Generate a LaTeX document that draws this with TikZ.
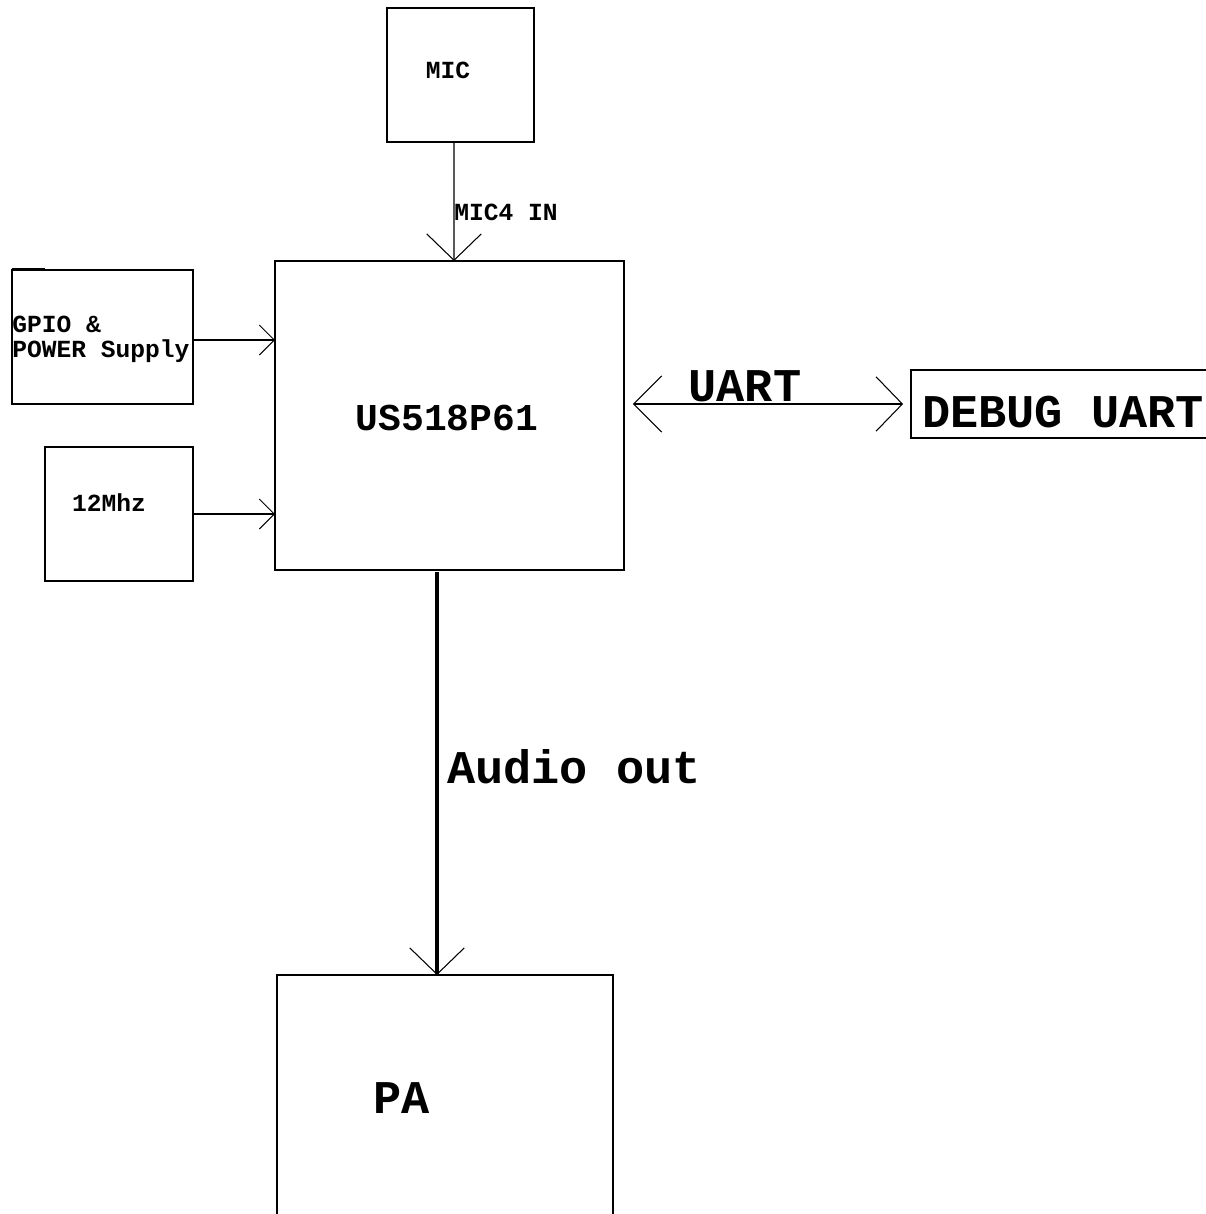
\documentclass[tikz,border=0pt]{standalone}
\usepackage{fontspec}
\setmainfont{Liberation Mono}
\usetikzlibrary{arrows.meta,calc}
\begin{document}
\begin{tikzpicture}[x=0.02cm,y=-0.02cm,
  box/.style={draw,line width=0.6pt,inner sep=0pt,outer sep=0pt,anchor=north west},
  small/.style={font=\fontsize{14}{14.2}\selectfont\bfseries,inner sep=0pt},
  mid/.style={font=\fontsize{21.6}{24}\selectfont\bfseries,inner sep=0pt},
  big/.style={font=\fontsize{26.7}{30}\selectfont\bfseries,inner sep=0pt},
  conn/.style={line width=0.6pt},
  smallhead/.style={-{Straight Barb[length=8.5pt,width=17pt,line width=0.6pt]}},
  bighead/.style={-{Straight Barb[length=15pt,width=31pt,line width=0.6pt]}},
  dblhead/.style={{Straight Barb[length=16pt,width=32pt,line width=0.6pt]}-{Straight Barb[length=15pt,width=31pt,line width=0.6pt]}},
]
\path[use as bounding box,clip] (0,0) rectangle (1206,1214);
% boxes
\node[box,minimum width=147*0.02cm,minimum height=134*0.02cm] (mic) at (387,8) {};
\node[box,minimum width=181*0.02cm,minimum height=134*0.02cm] (gpio) at (12,270) {};
\node[box,minimum width=148*0.02cm,minimum height=134*0.02cm] (clk) at (45,447) {};
\node[box,minimum width=349*0.02cm,minimum height=309*0.02cm] (us) at (275,261) {};
\node[box,minimum width=320*0.02cm,minimum height=68*0.02cm] (dbg) at (911,370) {};
\node[box,minimum width=336*0.02cm,minimum height=260*0.02cm] (pa) at (277,975) {};
\draw[line width=1.2pt] (12,269) -- (45,269);
% labels
\node[small] (tmic) at (448,70) {MIC};
\node[small,anchor=base west] (tgpio1) at (12,332) {GPIO \&};
\node[small,anchor=base west] (tgpio2) at (12,357) {POWER Supply};
\node[small] (tclk) at (109,503) {12Mhz};
\node[mid] (tus) at (447,418) {US518P61};
\node[big,anchor=west] (tdbg) at (922,412) {DEBUG UART};
\node[big] (tpa) at (402,1098) {PA};
\node[small,anchor=west] (tmicin) at (454,212) {MIC4 IN};
\node[big,anchor=base] (tuart) at (745,401) {UART};
\node[big,anchor=west] (taudio) at (447,767) {Audio out};
% connectors
\draw[conn,bighead] ($(mic.south)+(-6.5,0)$) -- ($(us.north)+(4.5,0)$);
\draw[conn,smallhead] ($(gpio.east)+(0,3)$) -- ($(gpio.east -| us.west)+(0,3)$);
\draw[conn,smallhead] (clk.east) -- (clk.east -| us.west);
\draw[conn,dblhead,shorten <=5pt,shorten >=4.5pt] (us.east |- dbg.west) -- (dbg.west);
\draw[line width=2.3pt,-{Straight Barb[length=15pt,width=31pt,line width=0.6pt]}] ($(us.south)+(-12.5,2)$) -- ($(pa.north)+(-8,0)$);
\end{tikzpicture}
\end{document}
